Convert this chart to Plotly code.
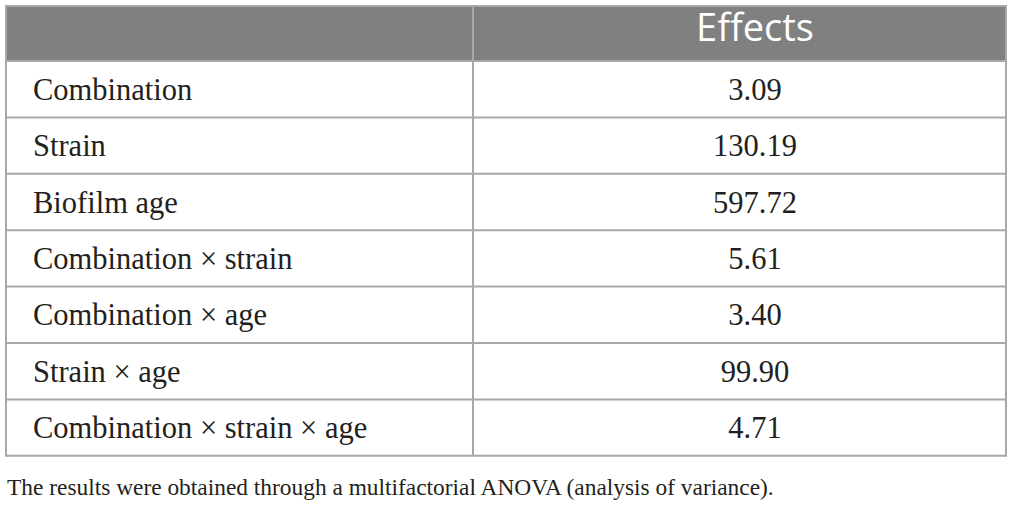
import plotly.graph_objects as go

# table contents
factors = ["Combination", "Strain", "Biofilm age", "Combination × strain",
           "Combination × age", "Strain × age", "Combination × strain × age"]
effects = ["3.09", "130.19", "597.72", "5.61", "3.40", "99.90", "4.71"]
header = "Effects"
note = "The results were obtained through a multifactorial ANOVA (analysis of variance)."

W, H = 1013, 510
# layout of the grid (pixels)
left, mid, right = 6, 473, 1006
top, header_h, row_h = 6, 55, 56.4
border = "#a8a8a8"
serif = "Liberation Serif"
ink = "#231f20"

def edge(i):
    # y of the line below body row i (-1 = line below the header)
    return top + header_h + (i + 1) * row_h

def centre(i):
    return edge(i) - row_h / 2

n = len(factors)
bottom = edge(n - 1)

fig = go.Figure()

# header band
fig.add_shape(type="rect", x0=left, x1=right, y0=top, y1=top + header_h,
              fillcolor="#808080", line_width=0, layer="below")

# grid lines
for y in [top] + [edge(i) for i in range(-1, n)]:
    fig.add_shape(type="line", x0=left - 1, x1=right + 1, y0=y, y1=y,
                  line=dict(color=border, width=2))
for x in (left, mid, right):
    fig.add_shape(type="line", x0=x, x1=x, y0=top, y1=bottom,
                  line=dict(color=border, width=2))

rows = list(range(n))

# header text
fig.add_trace(go.Scatter(x=[755], y=[top + header_h / 2 - 2], mode="text", text=[header],
                         textposition="middle center", hoverinfo="skip",
                         textfont=dict(family="Open Sans", size=38, color="white")))
# first column
fig.add_trace(go.Scatter(x=[33] * n, y=[centre(i) + 3 for i in rows],
                         mode="text", text=factors, textposition="middle right",
                         hoverinfo="skip",
                         textfont=dict(family=serif, size=30.5, color=ink)))
# effects column
fig.add_trace(go.Scatter(x=[755] * n, y=[centre(i) + 3 for i in rows],
                         mode="text", text=effects, textposition="middle center",
                         hoverinfo="skip",
                         textfont=dict(family=serif, size=30.5, color=ink)))
# footnote
fig.add_trace(go.Scatter(x=[7], y=[bottom + 33], mode="text", text=[note],
                         textposition="middle right", hoverinfo="skip",
                         textfont=dict(family=serif, size=23.4, color=ink)))

fig.update_xaxes(range=[0, W], visible=False, fixedrange=True)
fig.update_yaxes(range=[H, 0], visible=False, fixedrange=True)
fig.update_layout(width=W, height=H, margin={'l': 0, 'r': 0, 't': 0, 'b': 0},
                  paper_bgcolor="white", plot_bgcolor="white", showlegend=False)

fig.write_html("out.html", config={'displayModeBar': False},
               post_script="document.body.style.margin = '0';")
